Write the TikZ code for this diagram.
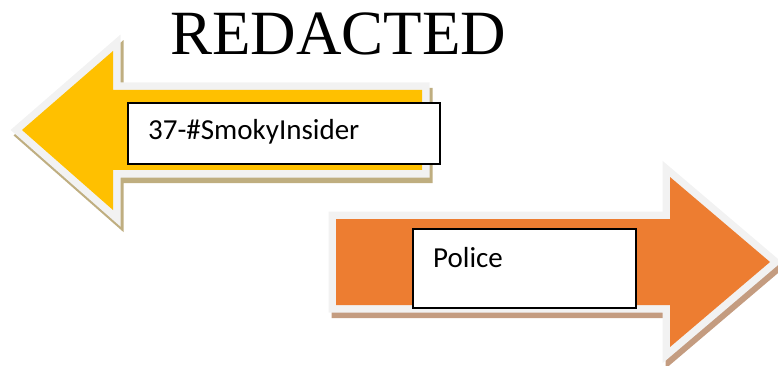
\documentclass[tikz,border=0pt]{standalone}
\usepackage{fontspec}
\setmainfont{Carlito}
\newfontfamily\titlefont{Liberation Serif}
\usepackage{tikz}
\usetikzlibrary{calc}
\definecolor{arrowyellow}{HTML}{FFC000}
\definecolor{arroworange}{HTML}{ED7D31}
\definecolor{rimgray}{HTML}{F2F2F2}
\definecolor{yshadow}{HTML}{BFAE80}
\definecolor{oshadow}{HTML}{C49C80}

\begin{document}
\begin{tikzpicture}[x=1pt,y=-1pt,
		rim/.style={line width=15pt, line join=miter, miter limit=10},
		txtbox/.style={draw=black, line width=1.6pt, fill=white, rectangle, anchor=north west, inner sep=0pt},
		lbl/.style={anchor=base west, inner sep=0pt, font=\fontsize{29}{34}\selectfont}]
			\useasboundingbox (0,0) rectangle (778,366);
			% left arrow
			\coordinate (ytip) at (22,130);
			\coordinate (yheadtop) at (113,51);
			\coordinate (yneckt) at (113,90);
			\coordinate (yendt) at (422,90);
			\coordinate (yendb) at (422,170);
			\coordinate (yneckb) at (113,170);
			\coordinate (yheadbot) at (113,210);
			% right arrow
			\coordinate (otip) at (770,262);
			\coordinate (oheadtop) at (670,177);
			\coordinate (oneckt) at (670,219);
			\coordinate (oendt) at (336,219);
			\coordinate (oendb) at (336,305);
			\coordinate (oneckb) at (670,305);
			\coordinate (oheadbot) at (670,347);
			\begin{scope}[transform canvas={shift={(3,5.5)}}]
				\filldraw[rim, draw=yshadow, fill=yshadow] (ytip) -- (yheadtop) -- (yneckt) -- (yendt) -- (yendb) -- (yneckb) -- (yheadbot) -- cycle;
				\filldraw[rim, draw=oshadow, fill=oshadow] (otip) -- (oheadtop) -- (oneckt) -- (oendt) -- (oendb) -- (oneckb) -- (oheadbot) -- cycle;
			\end{scope}
			\draw[rim, draw=rimgray] (ytip) -- (yheadtop) -- (yneckt) -- (yendt) -- (yendb) -- (yneckb) -- (yheadbot) -- cycle;
			\fill[arrowyellow] (ytip) -- (yheadtop) -- (yneckt) -- (yendt) -- (yendb) -- (yneckb) -- (yheadbot) -- cycle;
			\draw[rim, draw=rimgray] (otip) -- (oheadtop) -- (oneckt) -- (oendt) -- (oendb) -- (oneckb) -- (oheadbot) -- cycle;
			\fill[arroworange] (otip) -- (oheadtop) -- (oneckt) -- (oendt) -- (oendb) -- (oneckb) -- (oheadbot) -- cycle;
			% boxes and labels
			\node[txtbox, minimum width=312pt, minimum height=61pt] (insiderbox) at (127,102) {};
			\node[lbl] (insider) at (148,140) {37-\#SmokyInsider};
			\node[txtbox, minimum width=223pt, minimum height=79pt] (policebox) at (412,228) {};
			\node[lbl] (police) at (433,267) {Police};
			\node[anchor=base west, inner sep=0pt, font=\titlefont\fontsize{63}{63}\selectfont] (title) at (170,55) {REDACTED};
		\end{tikzpicture}
\end{document}
